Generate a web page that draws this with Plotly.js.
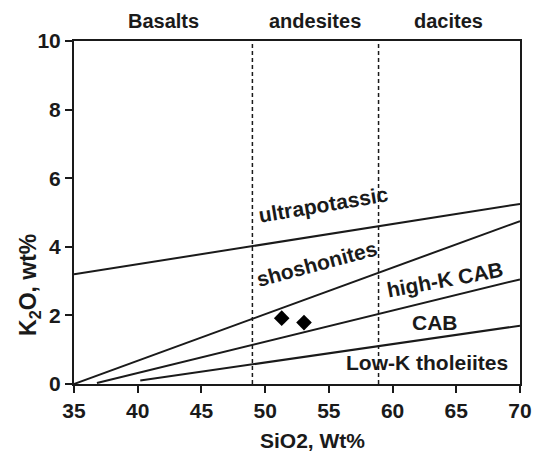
<!DOCTYPE html>
<html>
<head>
<meta charset="utf-8">
<script src="https://cdn.plot.ly/plotly-3.0.1.min.js"></script>
<style>html,body{margin:0;padding:0;background:#fff;}#chart{width:533px;height:459px;}</style>
</head>
<body>
<div id="chart"></div>
<script>
// Field boundary lines (SiO2 wt%, K2O wt%)
const ultraX = [35, 70];
const ultraY = [3.2, 5.25];
const shoshX = [35, 70];
const shoshY = [0, 4.75];
const highKX = [36.8, 70];
const highKY = [0.03, 3.05];
const lowKX = [40.2, 70];
const lowKY = [0.1, 1.7];
// Rock-type dividers (SiO2 wt%)
const dividerX = [49, 58.9];
// Samples
const sampleSiO2 = [51.3, 53.05];
const sampleK2O = [1.92, 1.79];
// Rock type names (top) and their centres
const rockNames = ['Basalts', 'andesites', 'dacites'];
const rockX = [42, 53.9, 64.4];
// Field labels
const fieldNames = ['ultrapotassic', 'shoshonites', 'high-K CAB', 'CAB', 'Low-K tholeiites'];
const fieldX = [54.6, 54.1, 64.1, 63.3, 62.7];
const fieldY = [5.22, 3.5, 3.06, 1.79, 0.62];
const fieldAngle = [-9.5, -15, -10.5, 0, 0];

const ink = '#1a1a1a';
const fontFam = 'Liberation Sans, Arial, sans-serif';
const lineStyle = {color: ink, width: 2};

const traces = [];
[[ultraX, ultraY], [shoshX, shoshY], [highKX, highKY], [lowKX, lowKY]].forEach(([x, y]) => {
  traces.push({x: x, y: y, mode: 'lines', line: lineStyle, hoverinfo: 'skip', showlegend: false});
});
dividerX.forEach(d => {
  traces.push({x: [d, d], y: [0, 10], mode: 'lines', line: {color: ink, width: 1.5, dash: '4px,3px'}, hoverinfo: 'skip', showlegend: false});
});
traces.push({x: sampleSiO2, y: sampleK2O, mode: 'markers', marker: {symbol: 'diamond', size: 12, color: '#000'}, showlegend: false});

const annotations = [];
rockNames.forEach((n, i) => {
  annotations.push({text: n, x: rockX[i], xref: 'x', y: 1.058, yref: 'paper', yanchor: 'middle', showarrow: false,
    font: {family: fontFam, size: 20, color: ink, weight: 700}});
});
fieldNames.forEach((n, i) => {
  annotations.push({text: n, x: fieldX[i], y: fieldY[i], xref: 'x', yref: 'y', showarrow: false, textangle: fieldAngle[i],
    font: {family: fontFam, size: 21, color: ink, weight: 700}});
});
annotations.push({text: 'SiO2, Wt%', x: 53.7, xref: 'x', y: -0.165, yref: 'paper', yanchor: 'middle', showarrow: false,
  font: {family: fontFam, size: 21, color: ink, weight: 700}});
annotations.push({text: 'K<sub>2</sub>O, wt%', x: -0.1, xref: 'paper', y: 2.9, yref: 'y', textangle: -90, showarrow: false,
  xanchor: 'center', font: {family: fontFam, size: 23, color: ink, weight: 700}});

const layout = {
  width: 533, height: 459,
  margin: {l: 74, r: 13, t: 41, b: 75},
  paper_bgcolor: '#fff', plot_bgcolor: '#fff',
  showlegend: false,
  xaxis: {range: [35, 70], tickvals: [35, 40, 45, 50, 55, 60, 65, 70], showgrid: false, zeroline: false,
    showline: true, linecolor: ink, linewidth: 2, mirror: true, ticks: 'outside', ticklen: 7, tickwidth: 2, tickcolor: ink,
    tickfont: {family: fontFam, size: 21, color: ink, weight: 700}, automargin: false},
  yaxis: {range: [0, 10], tickvals: [0, 2, 4, 6, 8, 10], showgrid: false, zeroline: false,
    showline: true, linecolor: ink, linewidth: 2, mirror: true, ticks: 'outside', ticklen: 7, tickwidth: 2, tickcolor: ink,
    tickfont: {family: fontFam, size: 21, color: ink, weight: 700}, automargin: false},
  annotations: annotations
};
Plotly.newPlot('chart', traces, layout, {displayModeBar: false, staticPlot: true});
</script>
</body>
</html>
